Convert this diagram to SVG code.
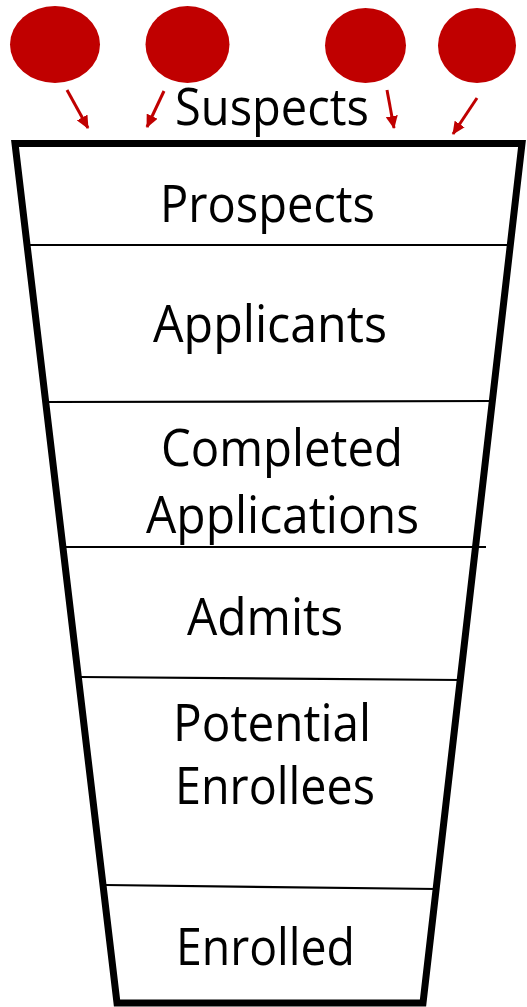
<svg xmlns="http://www.w3.org/2000/svg" width="527" height="1007" viewBox="0 0 527 1007">
  <style>
    .lbl { font-family: "Open Sans", "Noto Sans", "DejaVu Sans", sans-serif; font-size: 52px; fill: #000; }
    .dot { fill: #C00000; }
    .flow { stroke: #C00000; stroke-width: 3; fill: none; }
    .divider { stroke: #000; stroke-width: 2.2; fill: none; }
  </style>
  <defs>
    <marker id="head" viewBox="0 0 13 12" refX="12" refY="6" markerWidth="13" markerHeight="12" markerUnits="userSpaceOnUse" orient="auto">
      <path d="M0,0 L13,6 L0,12 Z" fill="#C00000"/>
    </marker>
  </defs>
  <rect width="527" height="1007" fill="#fff"/>

  <!-- incoming suspects -->
  <g id="suspect-1"><ellipse class="dot" cx="55" cy="44.5" rx="45" ry="38.5"/></g>
  <g id="suspect-2"><ellipse class="dot" cx="187.5" cy="44.5" rx="42" ry="38.5"/></g>
  <g id="suspect-3"><ellipse class="dot" cx="365.5" cy="45.5" rx="40.5" ry="37.5"/></g>
  <g id="suspect-4"><ellipse class="dot" cx="477" cy="45.5" rx="39" ry="37.5"/></g>

  <g id="connectors">
    <line class="flow" x1="67" y1="90" x2="88" y2="128" marker-end="url(#head)"/>
    <line class="flow" x1="164" y1="91" x2="147" y2="127" marker-end="url(#head)"/>
    <line class="flow" x1="387" y1="90" x2="394" y2="128" marker-end="url(#head)"/>
    <line class="flow" x1="477" y1="98" x2="453" y2="134" marker-end="url(#head)"/>
  </g>

  <g id="suspects-label">
    <text class="lbl" x="175" y="125" textLength="194" lengthAdjust="spacingAndGlyphs">Suspects</text>
  </g>

  <!-- funnel outline -->
  <g id="funnel">
    <path d="M15,143.5 L522,143.5 L423,1003 L117,1003 Z" fill="none" stroke="#000" stroke-width="7" stroke-linejoin="miter"/>
  </g>

  <!-- stage dividers -->
  <g id="dividers">
    <line class="divider" x1="27" y1="245" x2="511" y2="245"/>
    <line class="divider" x1="46" y1="402" x2="494" y2="401"/>
    <line class="divider" x1="63" y1="547" x2="486" y2="547"/>
    <line class="divider" x1="80" y1="677" x2="461" y2="680"/>
    <line class="divider" x1="105" y1="885" x2="437" y2="889"/>
  </g>

  <g id="stage-prospects">
    <text class="lbl" x="160" y="222" textLength="215" lengthAdjust="spacingAndGlyphs">Prospects</text>
  </g>
  <g id="stage-applicants">
    <text class="lbl" x="153" y="342" textLength="234" lengthAdjust="spacingAndGlyphs">Applicants</text>
  </g>
  <g id="stage-completed">
    <text class="lbl" x="161" y="466" textLength="242" lengthAdjust="spacingAndGlyphs">Completed</text>
    <text class="lbl" x="146" y="533" textLength="273" lengthAdjust="spacingAndGlyphs">Applications</text>
  </g>
  <g id="stage-admits">
    <text class="lbl" x="187" y="635" textLength="156" lengthAdjust="spacingAndGlyphs">Admits</text>
  </g>
  <g id="stage-potential">
    <text class="lbl" x="173" y="741" textLength="198" lengthAdjust="spacingAndGlyphs">Potential</text>
    <text class="lbl" x="175" y="804" textLength="200" lengthAdjust="spacingAndGlyphs">Enrollees</text>
  </g>
  <g id="stage-enrolled">
    <text class="lbl" x="176" y="965" textLength="179" lengthAdjust="spacingAndGlyphs">Enrolled</text>
  </g>
</svg>
